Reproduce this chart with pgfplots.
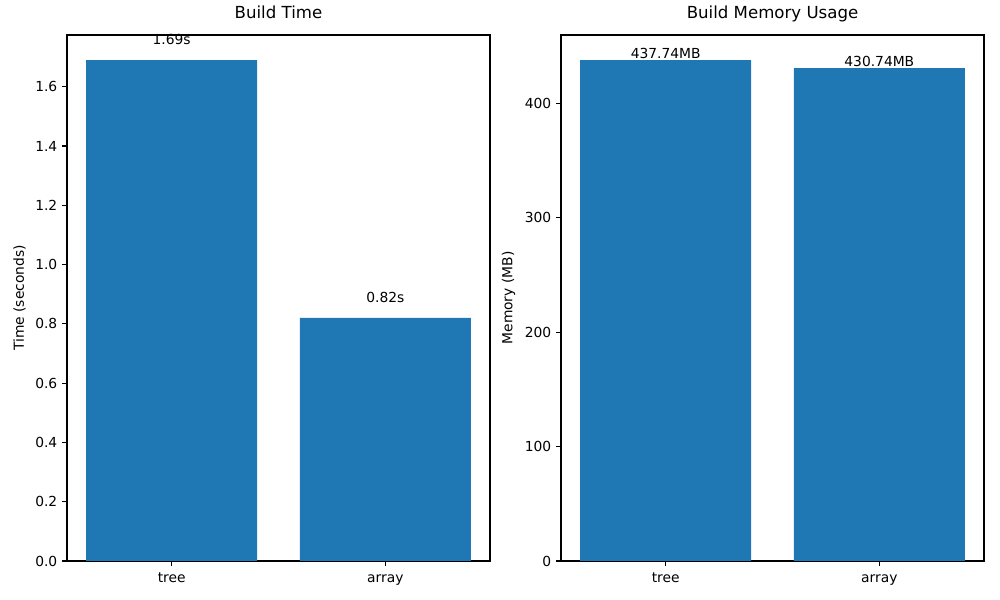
\documentclass[border=0pt]{standalone}
\usepackage{fontspec}
\setmainfont{DejaVu Sans}
\usepackage{pgfplots}
\pgfplotsset{compat=1.18}
\definecolor{mplblue}{HTML}{1F77B4}
\newcommand{\tenpt}{\fontsize{10}{12}\selectfont}
\pgfplotsset{
  mpl/.style={
    scale only axis, width=4.23in, height=5.26in,
    anchor=south west,
    ybar, bar width=0.8,
    xmin=-0.49, xmax=1.49, ymin=0,
    xtick={0,1}, xticklabels={tree,array},
    tick align=outside, xtick pos=bottom, ytick pos=left,
    major tick length=3.5pt,
    every tick/.style={black, line width=0.8pt},
    axis line style={line width=0.8pt},
    tick label style={font=\tenpt},
    xticklabel style={text depth=0pt, text height=7.3pt, yshift=-1.5pt},
    label style={font=\tenpt},
    title style={font=\fontsize{12}{14}\selectfont, at={(0.5,1)}, anchor=base, yshift=6pt, inner sep=0pt},
    /pgf/number format/assume math mode=true,
    every node near coord/.append style={font=\tenpt, anchor=south, inner sep=0pt, black},
  }
}
\begin{document}
\begin{tikzpicture}[x=1in,y=1in]
\useasboundingbox (0,0) rectangle (10,6);
\begin{axis}[mpl, at={(0.67in,0.39in)},
  ymax=1.7745,
  ytick={0,0.2,...,1.6},
  yticklabel style={/pgf/number format/.cd, fixed, fixed zerofill, precision=1},
  ylabel={Time (seconds)},
  title={Build Time},
  nodes near coords={\pgfmathprintnumber[fixed,fixed zerofill,precision=2]{\pgfplotspointmeta}s},
  every node near coord/.append style={yshift=10.7pt},
]
\addplot[fill=mplblue, draw=none] coordinates {(0,1.69) (1,0.82)};
\end{axis}
\begin{axis}[mpl, at={(5.61in,0.39in)},
  ymax=459.63,
  ytick={0,100,...,400},
  ylabel={Memory (MB)},
  title={Build Memory Usage},
  nodes near coords={\pgfmathprintnumber[fixed,fixed zerofill,precision=2]{\pgfplotspointmeta}MB},
  every node near coord/.append style={yshift=1pt},
]
\addplot[fill=mplblue, draw=none] coordinates {(0,437.74) (1,430.74)};
\end{axis}
\end{tikzpicture}
\end{document}
